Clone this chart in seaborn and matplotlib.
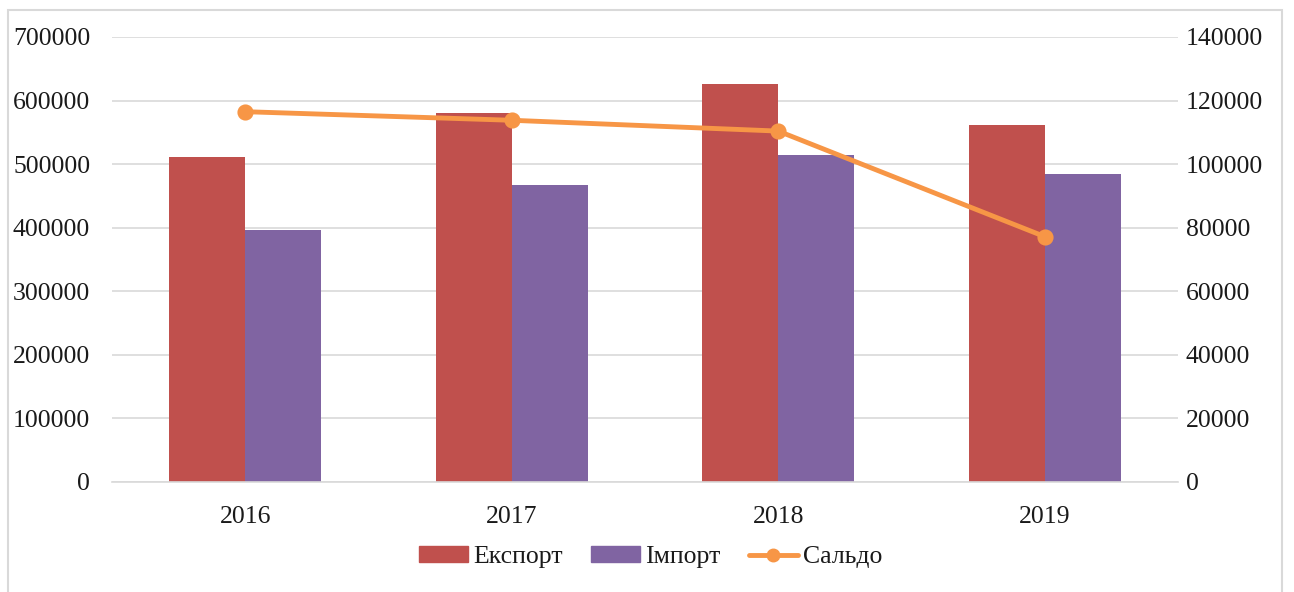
import matplotlib
matplotlib.use("Agg")
import matplotlib.pyplot as plt
import seaborn as sns
import pandas as pd
from matplotlib.patches import Rectangle
from matplotlib.lines import Line2D
from matplotlib.patches import Patch

years = ["2016", "2017", "2018", "2019"]
export_vals = [511000, 580000, 626000, 561000]
import_vals = [396000, 467000, 515000, 485000]
saldo_vals = [116500, 113800, 110400, 77200]
series_names = ["Експорт", "Імпорт", "Сальдо"]
left_ticks = [0, 100000, 200000, 300000, 400000, 500000, 600000, 700000]
right_ticks = [0, 20000, 40000, 60000, 80000, 100000, 120000, 140000]

c_exp = "#C0504D"
c_imp = "#8064A2"
c_sal = "#F79646"
grid_c = "#D9D9D9"
txt_c = "#1a1a1a"
fs = 18.5

sns.set_theme(style="white")
plt.rcParams["font.family"] = ["Liberation Serif", "DejaVu Serif"]

df = pd.DataFrame({
    "year": years * 2,
    "value": export_vals + import_vals,
    "series": [series_names[0]] * 4 + [series_names[1]] * 4,
})

fig = plt.figure(figsize=(12.94, 5.92), dpi=100)
ax = fig.add_axes([112 / 1294, 1 - 482 / 592, (1178 - 112) / 1294, (482 - 37) / 592])

sns.barplot(data=df, x="year", y="value", hue="series", order=years,
            hue_order=series_names[:2], palette=[c_exp, c_imp],
            width=0.57, saturation=1, ax=ax, legend=False, linewidth=0)

ax.set_ylim(0, 700000)
ax.set_yticks(left_ticks)
ax.set_yticklabels([str(t) for t in left_ticks])
ax.yaxis.grid(True, color=grid_c, linewidth=1.2)
ax.set_axisbelow(True)
for s in ["top", "right", "left"]:
    ax.spines[s].set_visible(False)
ax.spines["bottom"].set_color(grid_c)
ax.spines["bottom"].set_linewidth(1.2)
ax.set_xlabel("")
ax.set_ylabel("")
ax.tick_params(axis="y", length=0, pad=15.7, labelsize=fs, colors=txt_c)
ax.tick_params(axis="x", length=0, pad=17, labelsize=fs, colors=txt_c)

ax2 = ax.twinx()
sns.pointplot(x=years, y=saldo_vals, order=years, color=c_sal, ax=ax2,
              markers="o", linestyles="-", markersize=9, linewidth=3.5)
ax2.set_ylim(0, 140000)
ax2.set_yticks(right_ticks)
ax2.set_yticklabels([str(t) for t in right_ticks])
ax2.set_xlim(-0.5, 3.5)
ax.set_xlim(-0.5, 3.5)
for s in ["top", "right", "left", "bottom"]:
    ax2.spines[s].set_visible(False)
ax2.tick_params(axis="y", length=0, pad=5.5, labelsize=fs, colors=txt_c)
ax2.grid(False)
ax2.set_ylabel("")

handles = [
    Patch(facecolor=c_exp, edgecolor=c_exp),
    Patch(facecolor=c_imp, edgecolor=c_imp),
    Line2D([0], [0], color=c_sal, lw=3.5, marker="o", markersize=9),
]
fig.legend(handles, series_names, loc="center", bbox_to_anchor=(0.503, 1 - 557 / 592),
           ncol=3, frameon=False, fontsize=fs, handlelength=1.9, handleheight=0.6,
           columnspacing=1.1, handletextpad=0.2, labelcolor=txt_c)

fig.patches.append(Rectangle((8 / 1294, -0.01), (1282 - 8) / 1294, (592 - 10) / 592 + 0.01,
                             transform=fig.transFigure, fill=False,
                             edgecolor=grid_c, linewidth=1.5))

fig.savefig("out.png", dpi=100)
